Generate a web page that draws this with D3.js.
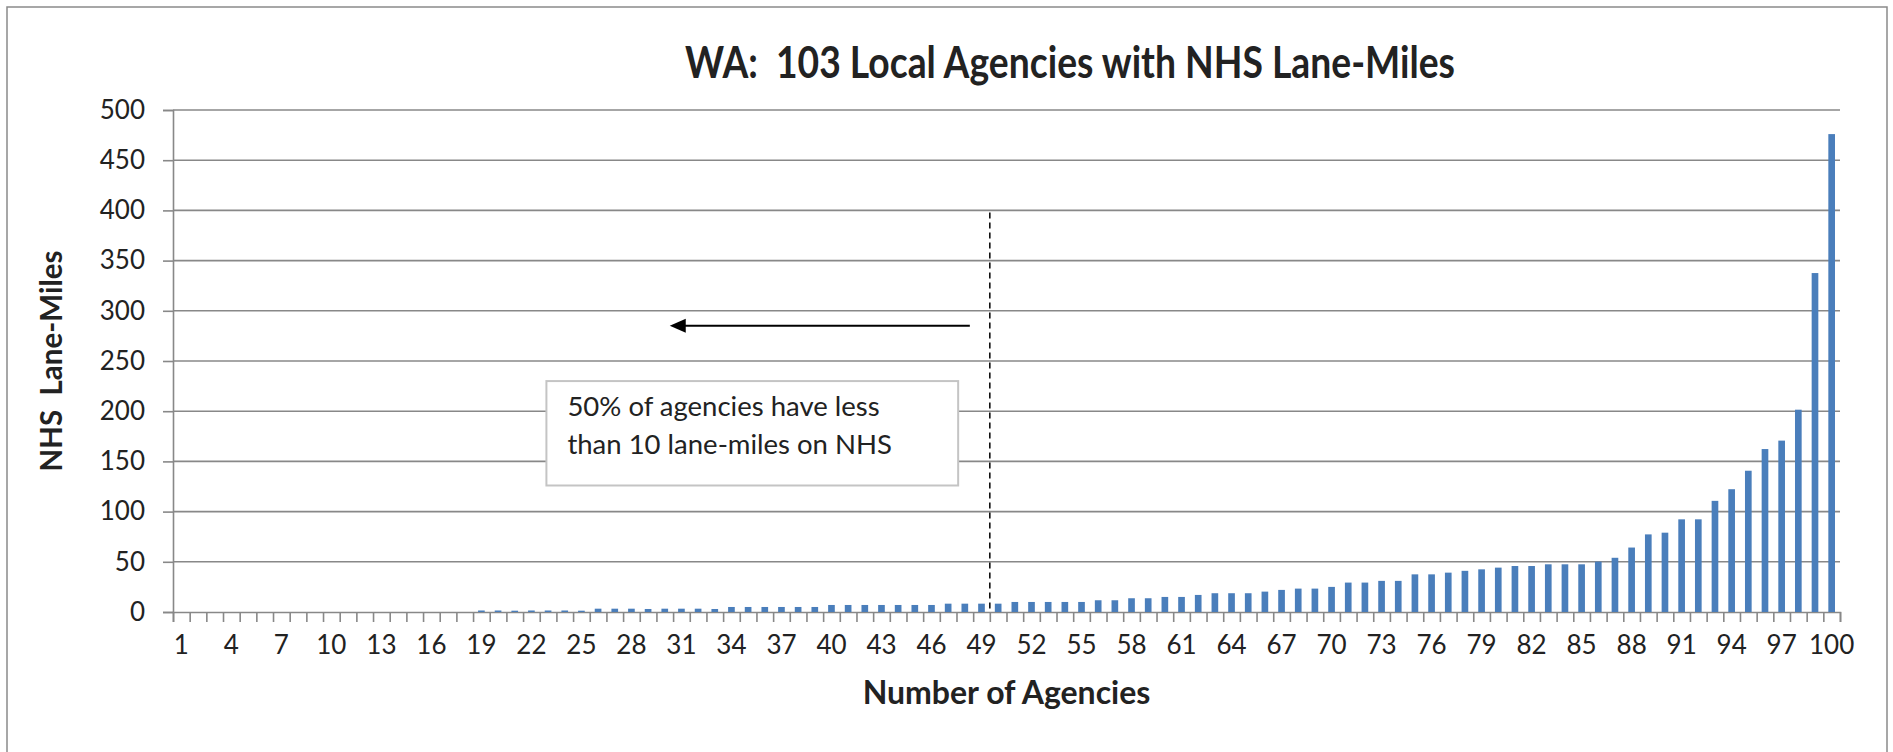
<!DOCTYPE html>
<html>
<head>
<meta charset="utf-8">
<title>WA NHS Lane-Miles</title>
<script src="https://cdn.jsdelivr.net/npm/d3@7"></script>
<style>
  body { margin: 0; background: #fff; }
  text { font-family: Lato, "Open Sans", sans-serif; fill: #222; white-space: pre; }
</style>
</head>
<body>
<div id="chart"></div>
<script>
// ranks 1..100 on the x axis
const ranks = d3.range(1, 101);
const rankLabels = [1, 4, 7, 10, 13, 16, 19, 22, 25, 28, 31, 34, 37, 40, 43, 46, 49, 52, 55, 58,
  61, 64, 67, 70, 73, 76, 79, 82, 85, 88, 91, 94, 97, 100];
const yTicks = [0, 50, 100, 150, 200, 250, 300, 350, 400, 450, 500];

// NHS lane-miles per agency, sorted
const laneMiles = [
  0, 0, 0, 0, 0, 0, 0, 0, 0, 0, 0, 0, 0, 0, 0, 0, 0, 0,
  1.5, 1.5, 1.3, 1.5, 1.5, 1.5, 1.3,
  3.3, 3.3, 3.3, 3.0, 3.3, 3.3, 3.3, 3.0,
  5, 5, 5, 5, 5, 5,
  7, 7, 7, 7, 7, 7, 7,
  8.3, 8.3, 8.3, 8.3,
  10, 10, 10, 10, 10,
  11.7, 11.7, 13.7, 13.7, 15, 15, 17,
  18.7, 18.7, 18.7, 20.3, 22, 23.3, 23.3, 25,
  29.3, 29.3, 31, 31, 37.5, 37.5, 39.2, 41, 42.5, 44.2,
  45.8, 45.8, 47.5, 47.5, 47.5, 50.2, 54, 64.2, 77.3, 79,
  92.3, 92.3, 110.7, 122.3, 140.7, 162.3, 170.7, 201.5, 337.6, 476
];

// annotation, in data units (rank boundaries / lane-miles)
const medianRank = 49;
const dashTop = 398;
const arrow = {from: 47.8, to: 29.8, value: 285};
const noteBox = {x0: 22.4, x1: 47.1, top: 230, bottom: 126};
const noteLines = ["50% of agencies have less", "than 10 lane-miles on NHS"];

const W = 1893, H = 752;
const margin = {top: 110, right: 53, bottom: 140, left: 173},
    width = W - margin.left - margin.right,
    height = H - margin.top - margin.bottom;

const svg = d3.select("#chart").append("svg")
    .attr("width", W)
    .attr("height", H);

// chart frame
svg.append("rect")
    .attr("x", 7).attr("y", 7)
    .attr("width", 1880).attr("height", 800)
    .attr("fill", "none")
    .attr("stroke", "#8a8a8a")
    .attr("stroke-width", 1.5);

const g = svg.append("g")
    .attr("transform", "translate(" + margin.left + "," + margin.top + ")");

const x = d3.scaleBand()
    .domain(ranks)
    .range([0, width])
    .paddingInner(0.6)
    .paddingOuter(0.3);

// category boundaries, for the tick marks
const xb = d3.scaleLinear()
    .domain([0, ranks.length])
    .range([0, width]);

const y = d3.scaleLinear()
    .domain([0, 500])
    .range([height, 0]);

// gridlines
g.selectAll("line.grid").data(yTicks.slice(1)).enter()
    .append("line")
    .attr("class", "grid")
    .attr("x1", 0).attr("x2", width)
    .attr("y1", d => y(d)).attr("y2", d => y(d))
    .attr("stroke", "#888")
    .attr("stroke-width", 1.6);

// y axis
const yAxis = g.append("g")
    .call(d3.axisLeft(y).tickValues(yTicks).tickSize(10).tickPadding(18));
yAxis.selectAll("text").style("font-size", "26px").attr("fill", "#222");

// x axis tick marks at category boundaries
g.append("g")
    .attr("transform", "translate(0," + height + ")")
    .call(d3.axisBottom(xb).tickValues(d3.range(0, ranks.length + 1)).tickSize(10).tickFormat(""));

// x axis labels
const xAxis = g.append("g")
    .attr("transform", "translate(0," + height + ")")
    .call(d3.axisBottom(x).tickValues(rankLabels).tickSize(0).tickPadding(24));
xAxis.select(".domain").remove();
xAxis.selectAll("text").style("font-size", "26px").attr("fill", "#222");

g.selectAll(".domain, .tick line")
    .attr("stroke", "#888")
    .attr("stroke-width", 1.6);

// bars
g.selectAll("rect.bar").data(laneMiles).enter()
    .append("rect")
    .attr("class", "bar")
    .attr("x", (d, i) => x(ranks[i]))
    .attr("width", x.bandwidth())
    .attr("y", d => y(d))
    .attr("height", d => height - y(d))
    .attr("fill", "#4a7ebb");

// dashed median line
g.append("line")
    .attr("x1", xb(medianRank)).attr("x2", xb(medianRank))
    .attr("y1", y(dashTop)).attr("y2", y(0))
    .attr("stroke", "#000")
    .attr("stroke-width", 1.5)
    .attr("stroke-dasharray", "6,4");

// arrow pointing left
g.append("line")
    .attr("x1", xb(arrow.from)).attr("x2", xb(arrow.to) + 14)
    .attr("y1", y(arrow.value)).attr("y2", y(arrow.value))
    .attr("stroke", "#000")
    .attr("stroke-width", 2);
g.append("path")
    .attr("d", "M0,0 L16,-7 L16,7 Z")
    .attr("transform", "translate(" + xb(arrow.to) + "," + y(arrow.value) + ")")
    .attr("fill", "#000");

// note box
g.append("rect")
    .attr("x", xb(noteBox.x0))
    .attr("y", y(noteBox.top))
    .attr("width", xb(noteBox.x1) - xb(noteBox.x0))
    .attr("height", y(noteBox.bottom) - y(noteBox.top))
    .attr("fill", "#fff")
    .attr("stroke", "#c4c4c4")
    .attr("stroke-width", 2);

g.append("text")
    .attr("x", xb(noteBox.x0) + 21)
    .attr("y", y(noteBox.top) + 35)
    .style("font-size", "27.5px")
    .selectAll("tspan").data(noteLines).enter()
    .append("tspan")
    .attr("x", xb(noteBox.x0) + 21)
    .attr("dy", (d, i) => i === 0 ? 0 : 38)
    .text(d => d);

// titles
svg.append("text")
    .attr("x", 1070)
    .attr("y", 78)
    .attr("text-anchor", "middle")
    .attr("textLength", 770)
    .attr("lengthAdjust", "spacingAndGlyphs")
    .style("font-size", "44px")
    .style("font-weight", "bold")
    .attr("fill", "#111")
    .text("WA:  103 Local Agencies with NHS Lane-Miles");

svg.append("text")
    .attr("x", margin.left + width / 2)
    .attr("y", 704)
    .attr("text-anchor", "middle")
    .style("font-size", "32px")
    .style("font-weight", "bold")
    .attr("fill", "#111")
    .text("Number of Agencies");

svg.append("text")
    .attr("transform", "translate(62," + (margin.top + y(250)) + ") rotate(-90)")
    .attr("text-anchor", "middle")
    .style("font-size", "29.5px")
    .style("font-weight", "bold")
    .attr("fill", "#111")
    .text("NHS  Lane-Miles");
</script>
</body>
</html>
